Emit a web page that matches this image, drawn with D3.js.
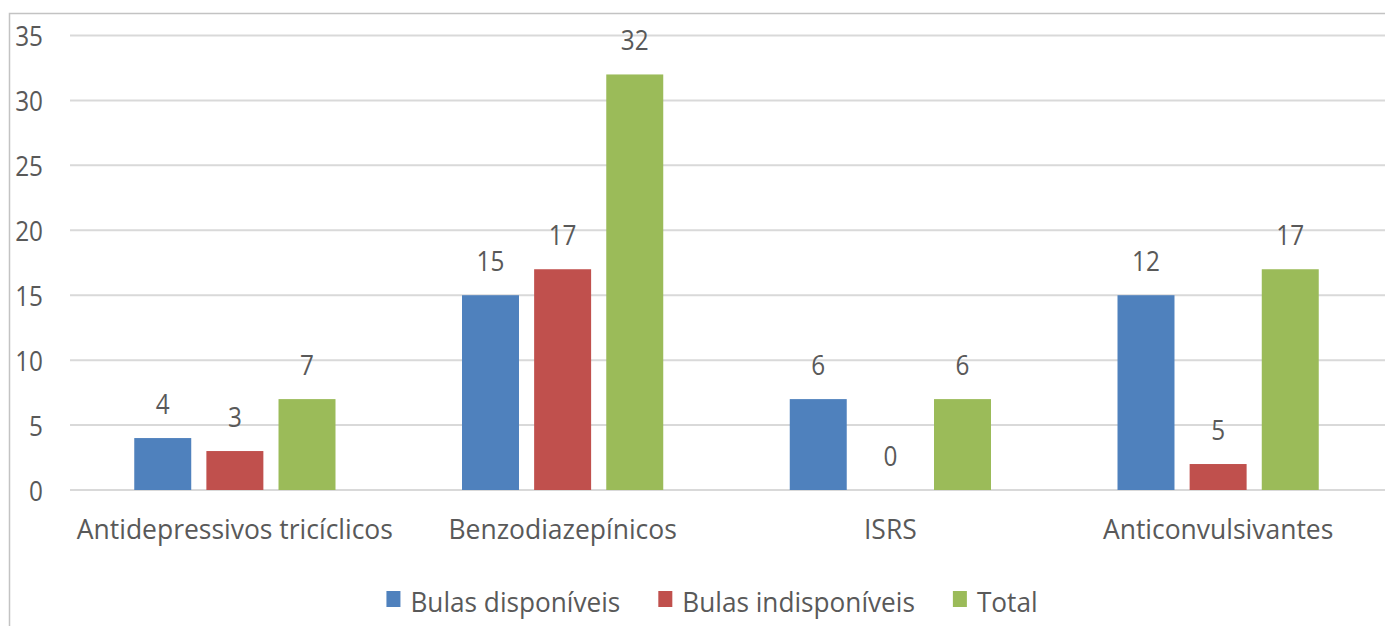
<!DOCTYPE html>
<html>
<head>
<meta charset="utf-8">
<script src="https://cdn.jsdelivr.net/npm/d3@7"></script>
<style>
  html, body { margin: 0; padding: 0; background: #ffffff; }
  svg { display: block; }
  text { font-family: "Open Sans", "Noto Sans", sans-serif; fill: #595959; }
</style>
</head>
<body>
<svg id="chart" width="1385" height="626"></svg>
<script>
// ---- data ----
const categories = ["Antidepressivos tricíclicos", "Benzodiazepínicos", "ISRS", "Anticonvulsivantes"];
const seriesNames = ["Bulas disponíveis", "Bulas indisponíveis", "Total"];
// bar heights as drawn
const bulasDisponiveis = [4, 15, 7, 15];
const bulasIndisponiveis = [3, 17, 0, 2];
const total = [7, 32, 7, 17];
// data label texts as printed above the bars
const labelsDisponiveis = ["4", "15", "6", "12"];
const labelsIndisponiveis = ["3", "17", "0", "5"];
const labelsTotal = ["7", "32", "6", "17"];
const yTicks = [0, 5, 10, 15, 20, 25, 30, 35];
const colors = ["#4F81BD", "#C0504D", "#9BBB59"];

const seriesValues = [bulasDisponiveis, bulasIndisponiveis, total];
const seriesLabels = [labelsDisponiveis, labelsIndisponiveis, labelsTotal];

const svg = d3.select("#chart");
const W = 1385, H = 626;
const FS = 27;

function squeeze(f) {
  return function (sel) {
    sel.each(function () {
      const len = this.getComputedTextLength();
      d3.select(this).attr("textLength", len * f).attr("lengthAdjust", "spacingAndGlyphs");
    });
  };
}

svg.append("rect").attr("width", W).attr("height", H).attr("fill", "#fff");

// chart border (top and left visible)
svg.append("path")
  .attr("d", `M9.5,${H} V13.5 H${W}`)
  .attr("fill", "none").attr("stroke", "#c3c3c3").attr("stroke-width", 1.5);

const y = d3.scaleLinear().domain([0, 35]).range([490, 35.5]);
const x0 = d3.scaleBand().domain(categories).range([71, 1382]).padding(0);
const x1 = d3.scaleBand().domain(seriesNames)
  .range([x0.bandwidth() * 0.193, x0.bandwidth() * 0.807]).paddingInner(0.21);

// gridlines
svg.append("g").selectAll("line").data(yTicks).join("line")
  .attr("x1", 70).attr("x2", W)
  .attr("y1", d => y(d)).attr("y2", d => y(d))
  .attr("stroke", "#d9d9d9").attr("stroke-width", 2);

// y axis labels
svg.append("g").selectAll("text").data(yTicks).join("text")
  .attr("x", 43).attr("y", d => y(d))
  .attr("text-anchor", "end").attr("dominant-baseline", "central")
  .attr("font-size", FS)
  .text(d => d)
  .call(squeeze(0.9));

// bars
const groups = svg.append("g").selectAll("g").data(categories).join("g")
  .attr("transform", d => `translate(${x0(d)},0)`);

groups.each(function (cat, ci) {
  const g = d3.select(this);
  seriesNames.forEach((s, si) => {
    const v = seriesValues[si][ci];
    if (v > 0) {
      g.append("rect")
        .attr("x", x1(s)).attr("width", x1.bandwidth())
        .attr("y", y(v)).attr("height", y(0) - y(v))
        .attr("fill", colors[si]);
    }
    g.append("text")
      .attr("x", x1(s) + x1.bandwidth() / 2)
      .attr("y", y(v) - 35)
      .attr("text-anchor", "middle").attr("dominant-baseline", "central")
      .attr("font-size", FS)
      .text(seriesLabels[si][ci])
      .call(squeeze(0.9));
  });
});

// category labels
svg.append("g").selectAll("text").data(categories).join("text")
  .attr("x", d => x0(d) + x0.bandwidth() / 2)
  .attr("y", 539)
  .attr("text-anchor", "middle")
  .attr("font-size", FS)
  .text(d => d)
  .call(squeeze(0.98));

// legend
const legend = svg.append("g");
const items = legend.selectAll("g").data(seriesNames).join("g");
items.append("rect").attr("width", 14).attr("height", 16).attr("y", -21)
  .attr("fill", (d, i) => colors[i]);
items.append("text").attr("x", 24).attr("y", 0)
  .attr("font-size", FS).text(d => d).call(squeeze(0.97));
let cx = 0;
const positions = [];
items.each(function () {
  const w = this.getBBox().width;
  positions.push(cx);
  cx += w + 38;
});
const totalW = cx - 38;
const startX = 712 - totalW / 2;
items.attr("transform", (d, i) => `translate(${startX + positions[i]},612)`);
</script>
</body>
</html>
